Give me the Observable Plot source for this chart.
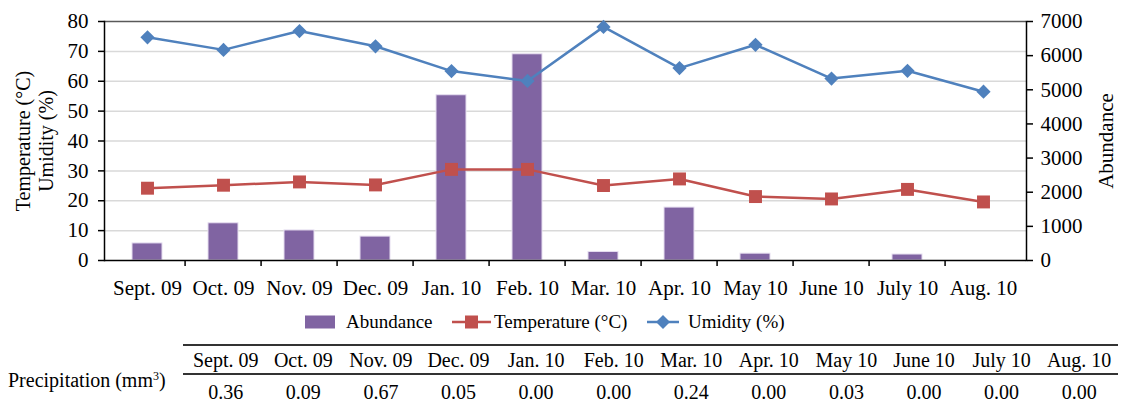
<!DOCTYPE html>
<html>
<head>
<meta charset="utf-8">
<script src="https://cdn.jsdelivr.net/npm/d3@7"></script>
<script src="https://cdn.jsdelivr.net/npm/@observablehq/plot@0.6"></script>
<style>
  html, body { margin: 0; padding: 0; background: #fff; }
  body { font-family: "Liberation Serif", "Times New Roman", serif; color: #000; }
  #wrap { position: relative; width: 1125px; height: 410px; overflow: hidden; }
  #chart { position: absolute; left: 0; top: 0; }
  .leg { position: absolute; top: 308px; height: 28px; display: flex; align-items: center; font-size: 19px; white-space: nowrap; }
  .hline { position: absolute; left: 183px; width: 935px; height: 2px; background: #333; }
  .trow { position: absolute; left: 187px; width: 931px; display: flex; font-size: 20px; }
  .trow div { flex: 1 1 0; text-align: center; white-space: nowrap; }
  #plabel { position: absolute; left: 8px; top: 368px; font-size: 20px; white-space: nowrap; line-height: 24px; }
</style>
</head>
<body>
<div id="wrap">
  <div id="chart"></div>
  <div class="leg" style="left:305px;">
    <svg width="31" height="14"><rect x="0" y="0.5" width="30" height="13" fill="#8064A2"/></svg>
    <span style="margin-left:10px;">Abundance</span>
  </div>
  <div class="leg" style="left:452px;">
    <svg width="40" height="16"><line x1="0" x2="39" y1="8" y2="8" stroke="#C0504D" stroke-width="2.5"/><rect x="13" y="1.5" width="13" height="13" fill="#C0504D"/></svg>
    <span style="margin-left:2px;">Temperature (°C)</span>
  </div>
  <div class="leg" style="left:647px;">
    <svg width="34" height="16"><line x1="0" x2="32" y1="8" y2="8" stroke="#4F81BD" stroke-width="2.5"/><path d="M16,1 L23,8 L16,15 L9,8 Z" fill="#4F81BD"/></svg>
    <span style="margin-left:7px;">Umidity (%)</span>
  </div>
  <div id="plabel">Precipitation (mm<sup style="font-size:12px;vertical-align:7px;line-height:0;">3</sup>)</div>
  <div class="hline" style="top:344px;"></div>
  <div class="trow" id="hrow" style="top:347px; height:26px; line-height:26px;"></div>
  <div class="hline" style="top:373px;"></div>
  <div class="trow" id="drow" style="top:377px; height:30px; line-height:30px;"></div>
</div>
<script>
const months = ["Sept. 09","Oct. 09","Nov. 09","Dec. 09","Jan. 10","Feb. 10","Mar. 10","Apr. 10","May 10","June 10","July 10","Aug. 10"];
const abundance = [500, 1090, 880, 700, 4840, 6040, 250, 1550, 200, 0, 175, 0];
const temperature = [24.2, 25.2, 26.3, 25.3, 30.5, 30.5, 25.1, 27.3, 21.4, 20.6, 23.8, 19.6];
const humidity = [74.7, 70.5, 76.8, 71.7, 63.4, 60.1, 78.2, 64.4, 72.2, 60.9, 63.5, 56.5];
const precipitation = ["0.36","0.09","0.67","0.05","0.00","0.00","0.24","0.00","0.03","0.00","0.00","0.00"];
const leftTicks = [0, 10, 20, 30, 40, 50, 60, 70, 80];
const rightTicks = [0, 1000, 2000, 3000, 4000, 5000, 6000, 7000];
const ratio = 7000 / 80;

const rows = months.map((m, i) => ({month: m, abundance: abundance[i], temperature: temperature[i], humidity: humidity[i]}));

const W = 1125, H = 305, mL = 104, mR = 99;
const halfStep = (W - mL - mR) / months.length / 2;
const fontSize = 21;

const chart = Plot.plot({
  width: W,
  height: H,
  marginTop: 21,
  marginBottom: 45,
  marginLeft: mL,
  marginRight: mR,
  style: {fontFamily: '"Liberation Serif", "Times New Roman", serif', fontSize: fontSize + "px", color: "#000", background: "#fff", overflow: "visible"},
  x: {domain: months, paddingInner: 0.6, paddingOuter: 0.3, label: null},
  y: {domain: [0, 80], label: null},
  marks: [
    Plot.ruleY(leftTicks.filter(d => d > 0 && d < 80), {stroke: "#d9d9d9", strokeWidth: 1.5}),
    Plot.ruleY([80], {stroke: "#595959", strokeWidth: 1.5}),
    Plot.barY(rows, {x: "month", y: d => d.abundance / ratio, fill: "#8064A2", stroke: "#e6def0", strokeWidth: 1}),
    Plot.ruleY([0], {stroke: "#000", strokeWidth: 1.5}),
    Plot.ruleX(months.slice(1), {x: d => d, dx: -halfStep, y1: 0, y2: 0, insetBottom: -6, stroke: "#000", strokeWidth: 1.5}),
    Plot.frame({anchor: "left", stroke: "#000", strokeWidth: 1.5}),
    Plot.frame({anchor: "right", stroke: "#000", strokeWidth: 1.5}),
    Plot.line(rows, {x: "month", y: "temperature", stroke: "#C0504D", strokeWidth: 2.5}),
    Plot.dot(rows, {x: "month", y: "temperature", symbol: "square", r: 7.3, fill: "#C0504D", stroke: "none"}),
    Plot.line(rows, {x: "month", y: "humidity", stroke: "#4F81BD", strokeWidth: 2.5}),
    Plot.dot(rows, {x: "month", y: "humidity", symbol: "diamond2", r: 6.4, fill: "#4F81BD", stroke: "none"}),
    Plot.axisY(leftTicks, {anchor: "left", tickSize: 6, tickPadding: 10, fontSize, label: null, stroke: "#000", strokeWidth: 1.5}),
    Plot.axisY(rightTicks.map(v => v / ratio), {anchor: "right", tickSize: 6, tickPadding: 8, fontSize, tickFormat: d => String(Math.round(d * ratio)), label: null, stroke: "#000", strokeWidth: 1.5}),
    Plot.axisX({anchor: "bottom", tickSize: 0, tickPadding: 20, fontSize, label: null}),
    Plot.text(["Temperature (°C)\nUmidity (%)"], {frameAnchor: "left", dx: -70, rotate: -90, textAnchor: "middle", fontSize: 20, lineHeight: 1.15, text: d => d}),
    Plot.text(["Abundance"], {frameAnchor: "right", dx: 80, rotate: -90, textAnchor: "middle", fontSize: 21, text: d => d})
  ]
});
document.getElementById("chart").appendChild(chart);

const hrow = document.getElementById("hrow");
const drow = document.getElementById("drow");
months.forEach((m, i) => {
  const th = document.createElement("div"); th.textContent = m; hrow.appendChild(th);
  const td = document.createElement("div"); td.textContent = precipitation[i]; drow.appendChild(td);
});
</script>
</body>
</html>
